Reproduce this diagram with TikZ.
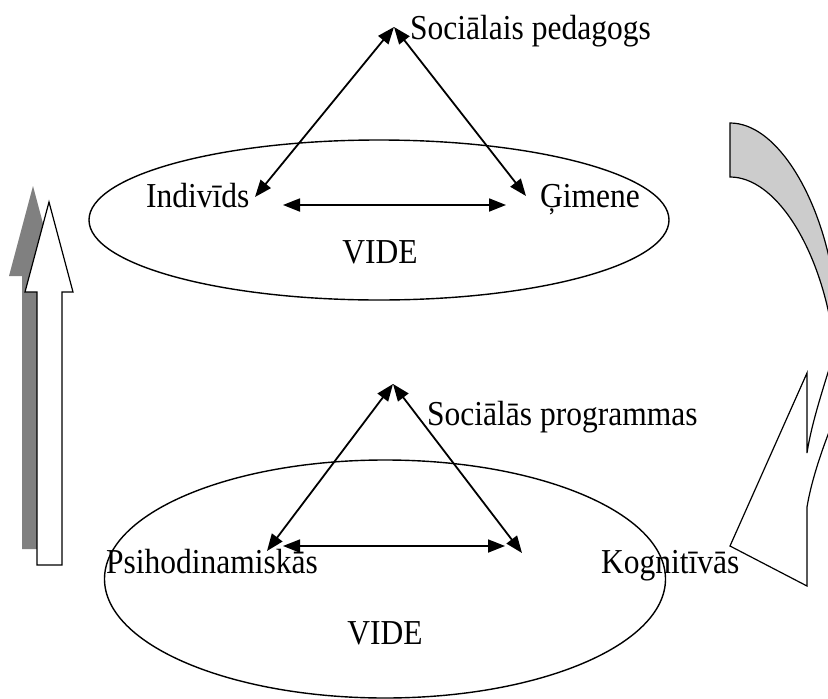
\documentclass[tikz,border=0pt]{standalone}
\usepackage{fontspec}
\setmainfont{Liberation Serif}[FakeStretch=0.9]
\usetikzlibrary{arrows.meta,shapes.geometric}

\definecolor{shadowgray}{HTML}{808080}
\definecolor{bandgray}{HTML}{CCCCCC}

\tikzset{
  lbl/.style={font=\fontsize{35}{40}\selectfont, inner sep=0pt},
  env/.style={draw, ellipse, line width=1.4pt, inner sep=0pt},
  link/.style={<->, line width=1.8pt}
}

\begin{document}
\begin{tikzpicture}[x=1pt, y=-1pt, >={Triangle[length=17pt,width=13pt]}]
\useasboundingbox (0,0) rectangle (828,699);

% environment ellipses
\node[env, minimum width=580pt, minimum height=160pt] (envA) at (379,220) {};
\node[env, minimum width=561pt, minimum height=238pt] (envB) at (385,579) {};

% labels
\node[lbl, anchor=base west] (ped) at (410,39) {Sociālais pedagogs};
\node[lbl, anchor=base west] (ind) at (146,207) {Indivīds};
\node[lbl, anchor=base west] (gim) at (540,207) {Ģimene};
\node[lbl, anchor=base] (videA) at (380,263) {VIDE};
\node[lbl, anchor=base west] (prog) at (427,425) {Sociālās programmas};
\node[lbl, anchor=base west] (psi) at (106,573) {Psihodinamiskās};
\node[lbl, anchor=base west] (kog) at (601,573) {Kognitīvās};
\node[lbl, anchor=base] (videB) at (385,644) {VIDE};

% top triangle
\coordinate (a1) at (394,27);
\coordinate (a2) at (255,197);
\coordinate (a3) at (526,196);
\coordinate (h1) at (283,205);
\coordinate (h2) at (506,205);
\draw[link] (a1) -- (a2);
\draw[link] (a1) -- (a3);
\draw[link] (h1) -- (h2);

% bottom triangle
\coordinate (b1) at (393,384);
\coordinate (b2) at (267,551);
\coordinate (b3) at (522,553);
\coordinate (k1) at (283,546);
\coordinate (k2) at (505,546);
\draw[link] (b1) -- (b2);
\draw[link] (b1) -- (b3);
\draw[link] (k1) -- (k2);

% left block arrow with shadow
\fill[shadowgray] (22,549) -- (22,276) -- (9,276) -- (33,186) -- (57,276) -- (47,276) -- (47,549) -- cycle;
\filldraw[fill=white, line width=1.2pt] (37,565) -- (37,292) -- (25,292) -- (49,202) -- (73,292) -- (62,292) -- (62,565) -- cycle;

% curved arrow on the right
\begin{scope}
\clip (0,0) rectangle (828,699);
\filldraw[fill=bandgray, line width=1.2pt] (730,123) -- (730,177)
  .. controls (775,177) and (818,245) .. (832,330) -- (860,330) -- (860,262) -- (830,262)
  .. controls (815,190) and (775,123) .. (730,123) -- cycle;
\filldraw[fill=white, line width=1.2pt] (838,340)
  .. controls (826,380) and (812,420) .. (807,453) -- (807,373) -- (730,546) -- (807,586) -- (807,507)
  .. controls (812,477) and (825,440) .. (840,405) -- (860,405) -- (860,340) -- cycle;
\end{scope}
\end{tikzpicture}
\end{document}
